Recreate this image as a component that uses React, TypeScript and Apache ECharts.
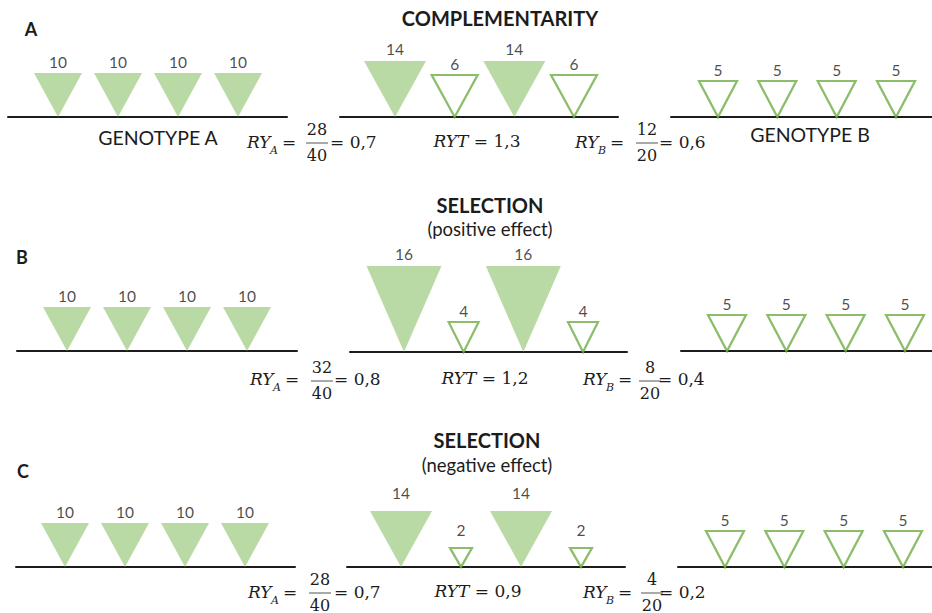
import React, { useEffect, useRef } from 'react';
import * as echarts from 'echarts';

// ---------- data ----------
const PANELS = ['A', 'B', 'C'];
const TITLES = ['COMPLEMENTARITY', 'SELECTION', 'SELECTION'];
const SUBTITLES = ['', '(positive effect)', '(negative effect)'];
const MONO_LABELS = ['GENOTYPE A', 'GENOTYPE B'];

// plant yields (one triangle per plant)
const MONO_A = [
  [10, 10, 10, 10],
  [10, 10, 10, 10],
  [10, 10, 10, 10],
];
const MIX_A = [
  [14, 14],
  [16, 16],
  [14, 14],
];
const MIX_B = [
  [6, 6],
  [4, 4],
  [2, 2],
];
const MONO_B = [
  [5, 5, 5, 5],
  [5, 5, 5, 5],
  [5, 5, 5, 5],
];
// plant positions along each row
const MONO_SLOTS = [1, 2, 3, 4];
const MIX_A_SLOTS = [1, 3];
const MIX_B_SLOTS = [2, 4];

// ---------- styles / layout ----------
const TRI = 'path://M0,0L100,0L50,100Z';
const FILL = '#a9d18e';
const STROKE = '#6fad46';
const INK = '#1c1c1c';
const SANS = 'Lato';
const MATH = 'DejaVu Serif';

const FILL_SIZE: Record<number, number[]> = { 16: [75, 86], 14: [62, 56], 10: [48, 44] };
const HOLLOW_SIZE: Record<number, number[]> = { 6: [46, 42], 5: [38, 36], 4: [30, 30], 2: [22, 19] };

// row geometry: line left/right, first/last plant centre, baseline y
const ROWS = [
  [
    { l: 8, r: 287, c1: 58, c4: 238, y: 117 },
    { l: 340, r: 618, c1: 395, c4: 574, y: 117 },
    { l: 671, r: 932, c1: 718, c4: 896, y: 117 },
  ],
  [
    { l: 17, r: 297, c1: 67, c4: 247, y: 351 },
    { l: 350, r: 627, c1: 404, c4: 583, y: 352 },
    { l: 681, r: 932, c1: 727, c4: 905, y: 351 },
  ],
  [
    { l: 16, r: 295, c1: 65, c4: 245, y: 567 },
    { l: 347, r: 625, c1: 401, c4: 581, y: 567 },
    { l: 678, r: 932, c1: 725, c4: 903, y: 567 },
  ],
];

const LETTER_POS = [[31, 29], [22, 257], [23, 471]];
const TITLE_POS = [[500, 18], [490, 205], [487, 440]];
const SUBTITLE_Y = [0, 229, 465];
const GENO_POS = [[158, 137], [810, 134]];

// formula layout: y of main line, RY_A start/frac/tail, RYT centre, RY_B start/frac/tail
const FORM = [
  { y: 142, bar: 143, a: [247, 317, 330], t: 477, b: [575, 647, 659] },
  { y: 379, bar: 381, a: [250, 322, 334], t: 485, b: [583, 650, 658] },
  { y: 592, bar: 593, a: [248, 320, 334], t: 478, b: [583, 652, 659] },
];

const sum = (a: number[]) => a.reduce((s, v) => s + v, 0);
const fmt = (v: number) => v.toFixed(1).replace('.', ',');

function text(x: number, y: number, t: string, st: any) {
  return {
    type: 'text',
    x,
    y,
    silent: true,
    style: { text: t, fill: INK, align: 'center', verticalAlign: 'middle', ...st },
  };
}

const MAIN = { fontFamily: MATH, fontSize: 17 };
const ITAL = { fontFamily: MATH, fontSize: 17, fontStyle: 'italic' };
const SUB = { fontFamily: MATH, fontSize: 11, fontStyle: 'italic' };

function ryEls(x: number, y: number, sub: string) {
  return [
    text(x, y, 'RY', { ...ITAL, align: 'left' }),
    text(x + 23, y + 8, sub, { ...SUB, align: 'left' }),
    text(x + 35, y, '=', { ...MAIN, align: 'left' }),
  ];
}

function fractionEls(cx: number, bar: number, num: number, den: number) {
  const f = { fontFamily: MATH, fontSize: 16 };
  return [
    text(cx, bar - 14, String(num), f),
    text(cx, bar + 12, String(den), f),
    {
      type: 'line',
      silent: true,
      shape: { x1: cx - 11, y1: bar, x2: cx + 11, y2: bar },
      style: { stroke: '#555', lineWidth: 1 },
    },
  ];
}

function buildOption() {
  const grid: any[] = [];
  const xAxis: any[] = [];
  const yAxis: any[] = [];
  const series: any[] = [];
  const graphic: any[] = [];

  const markSeries = (idx: number, slots: number[], values: number[], hollow: boolean, dist: number) => ({
    type: 'scatter',
    xAxisIndex: idx,
    yAxisIndex: idx,
    clip: false,
    silent: true,
    symbol: TRI,
    symbolKeepAspect: false,
    symbolSize: (val: number[]) => (hollow ? HOLLOW_SIZE : FILL_SIZE)[val[2]],
    symbolOffset: [0, '-50%'],
    itemStyle: hollow ? { color: '#ffffff', borderColor: STROKE, borderWidth: 2.2 } : { color: FILL },
    label: {
      show: true,
      position: 'top',
      distance: dist,
      formatter: (p: any) => String(p.value[2]),
      fontFamily: SANS,
      fontSize: 15.5,
      color: INK,
    },
    emphasis: { disabled: true },
    data: values.map((v, i) => [slots[i], 0, v]),
    z: 3,
  });

  ROWS.forEach((rows, p) => {
    rows.forEach((g, k) => {
      const idx = p * 3 + k;
      const unit = (g.c4 - g.c1) / 3;
      grid.push({ left: g.l, top: g.y - 130, width: g.r - g.l, height: 130 });
      xAxis.push({
        gridIndex: idx,
        type: 'value',
        min: 1 - (g.c1 - g.l) / unit,
        max: 4 + (g.r - g.c4) / unit,
        axisLine: { show: true, onZero: false, lineStyle: { color: INK, width: 2 } },
        axisTick: { show: false },
        axisLabel: { show: false },
        splitLine: { show: false },
      });
      yAxis.push({ gridIndex: idx, type: 'value', min: 0, max: 1, show: false });
    });
    const dMix = p === 2 ? 10 : 4;
    series.push(markSeries(p * 3, MONO_SLOTS, MONO_A[p], false, 3));
    series.push(markSeries(p * 3 + 1, MIX_A_SLOTS, MIX_A[p], false, dMix));
    series.push(markSeries(p * 3 + 1, MIX_B_SLOTS, MIX_B[p], true, p === 2 ? 9 : 2));
    series.push(markSeries(p * 3 + 2, MONO_SLOTS, MONO_B[p], true, 2));

    // texts
    graphic.push(text(LETTER_POS[p][0], LETTER_POS[p][1], PANELS[p], { fontFamily: SANS, fontWeight: 'bold', fontSize: 18 }));
    graphic.push(text(TITLE_POS[p][0], TITLE_POS[p][1], TITLES[p], { fontFamily: SANS, fontWeight: 'bold', fontSize: 20 }));
    if (SUBTITLES[p]) {
      graphic.push(text(TITLE_POS[p][0], SUBTITLE_Y[p], SUBTITLES[p], { fontFamily: SANS, fontSize: 18.5 }));
    }

    // relative yields
    const f = FORM[p];
    const numA = sum(MIX_A[p]);
    const denA = sum(MONO_A[p]);
    const numB = sum(MIX_B[p]);
    const denB = sum(MONO_B[p]);
    const ryA = numA / denA;
    const ryB = numB / denB;
    graphic.push(...ryEls(f.a[0], f.y, 'A'));
    graphic.push(...fractionEls(f.a[1], f.bar, numA, denA));
    graphic.push(text(f.a[2], f.y, '= ' + fmt(ryA), { ...MAIN, align: 'left' }));
    graphic.push(
      text(f.t, f.y - 1, '{it|RYT}{eq| = ' + fmt(ryA + ryB) + '}', {
        rich: {
          it: { ...ITAL, fill: INK },
          eq: { ...MAIN, fill: INK },
        },
      })
    );
    graphic.push(...ryEls(f.b[0], f.y, 'B'));
    graphic.push(...fractionEls(f.b[1], f.bar, numB, denB));
    graphic.push(text(f.b[2], f.y, '= ' + fmt(ryB), { ...MAIN, align: 'left' }));
  });

  graphic.push(text(GENO_POS[0][0], GENO_POS[0][1], MONO_LABELS[0], { fontFamily: SANS, fontSize: 19.5 }));
  graphic.push(text(GENO_POS[1][0], GENO_POS[1][1], MONO_LABELS[1], { fontFamily: SANS, fontSize: 19.5 }));

  return {
    animation: false,
    backgroundColor: '#ffffff',
    grid,
    xAxis,
    yAxis,
    series,
    graphic: { elements: graphic },
  };
}

export default function App() {
  const ref = useRef<HTMLDivElement>(null);
  useEffect(() => {
    document.body.style.margin = '0';
    if (!ref.current) return;
    const chart = echarts.init(ref.current, undefined, { renderer: 'svg' });
    chart.setOption(buildOption() as any);
    return () => chart.dispose();
  }, []);
  return <div ref={ref} style={{ width: 932, height: 613 }} />;
}
